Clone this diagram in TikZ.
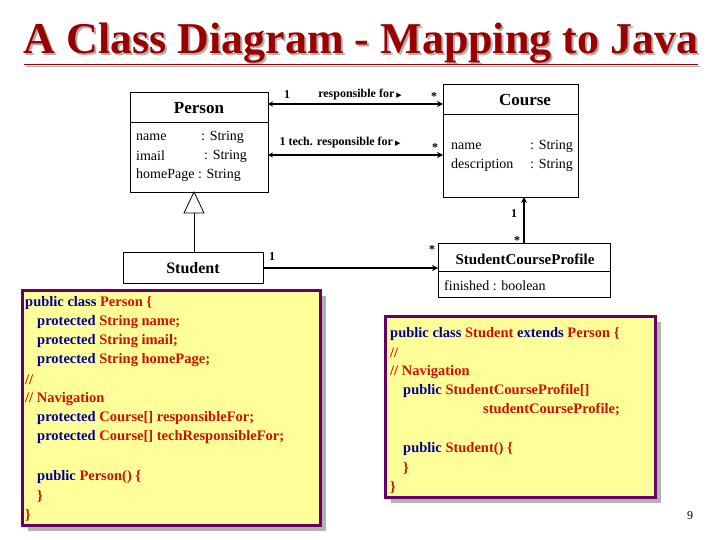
\documentclass[tikz,border=0pt]{standalone}
\usepackage{fontspec}
\setmainfont{Liberation Serif}
\newfontfamily\symf{DejaVu Sans}
\usetikzlibrary{arrows.meta}
\definecolor{kw}{HTML}{000099}
\definecolor{tp}{HTML}{CC1100}
\definecolor{ttl}{HTML}{990000}
\definecolor{codebg}{HTML}{FFFF99}
\definecolor{codebd}{HTML}{660066}
\begin{document}
\begin{tikzpicture}[x=1pt,y=-1pt,
  cls/.style={draw,line width=0.8pt},
  lbl/.style={inner sep=0pt,font=\fontsize{12}{12}\selectfont\bfseries},
  attr/.style={inner sep=0pt,anchor=west,font=\fontsize{14}{14}\selectfont},
  code/.style={inner sep=0pt,anchor=west,font=\fontsize{14.5}{14.5}\selectfont\bfseries},
  assoc/.style={line width=1.2pt},
  codebox/.style={fill=codebg,draw=codebd,line width=3pt}]
\useasboundingbox (0,0) rectangle (720,540);
\fill[white] (0,0) rectangle (720,540);
% title
\node[text=gray!60,font=\fontsize{44}{44}\selectfont\bfseries] at (363,46) {\underline{A Class Diagram - Mapping to Java}};
\node[text=ttl,font=\fontsize{44}{44}\selectfont\bfseries] (title) at (361,44) {\underline{A Class Diagram - Mapping to Java}};
% Person
\draw[cls] (130,92) rectangle (268,192); \draw[cls] (130,122) -- (268,122);
\coordinate (pR1) at (268,104); \coordinate (pR2) at (268,155);
\node[font=\fontsize{17}{17}\selectfont\bfseries] (person) at (199,108) {Person};
\node[attr] (pa1) at (136,137) {name}; \node[attr] at (201,137) {: String};
\node[attr] (pa2) at (136,156) {imail}; \node[attr] at (204,156) {: String};
\node[attr] (pa3) at (136,175) {homePage : String};
% Course
\draw[cls] (443,84) rectangle (578,197); \draw[cls] (443,114) -- (578,114);
\coordinate (cL1) at (443,104); \coordinate (cL2) at (443,155); \coordinate (cB) at (524,197);
\node[font=\fontsize{17}{17}\selectfont\bfseries] (course) at (525,100) {Course};
\node[attr] at (451,146) {name}; \node[attr] at (530,146) {: String};
\node[attr] at (451,165) {description}; \node[attr] at (530,165) {: String};
% Student
\draw[cls] (123,252) rectangle (263,283);
\coordinate (sR) at (263,268); \coordinate (sT) at (194,252);
\node[font=\fontsize{16}{16}\selectfont\bfseries] (student) at (193,268) {Student};
% SCP
\draw[cls] (438,243) rectangle (610,297); \draw[cls] (438,271) -- (610,271);
\coordinate (scL) at (438,268); \coordinate (scT) at (524,243);
\node[font=\fontsize{15}{15}\selectfont\bfseries] (scp) at (525,259) {StudentCourseProfile};
\node[attr] at (444,286) {finished : boolean};
% associations
\draw[assoc,{Stealth[length=5pt,width=5pt]}-{Stealth[length=6pt,width=6pt]}] (pR1) -- (cL1);
\draw[assoc,{Stealth[length=5pt,width=5pt]}-{Stealth[length=6pt,width=6pt]}] (pR2) -- (cL2);
\draw[assoc,-{Stealth[length=6pt,width=6pt]}] (sR) -- (scL);
\draw[assoc,-{Stealth[length=6pt,width=6pt]}] (scT) -- (cB);
% generalization
\coordinate (gTip) at (194,192); \coordinate (gBase) at (194,213);
\draw[line width=0.8pt] (gTip) -- (204,213) -- (184,213) -- cycle;
\draw[line width=0.8pt] (gBase) -- (sT);
% labels
\node[lbl] at (287,95) {1};
\node[lbl] at (360,95) {responsible for\,{\symf\scriptsize ▶}};
\node[lbl] at (434,97) {*};
\node[lbl] at (340,143) {1 tech. responsible for\,{\symf\scriptsize ▶}};
\node[lbl] at (435,148) {*};
\node[lbl] at (514,214) {1};
\node[lbl] at (517,241) {*};
\node[lbl] at (272,257) {1};
\node[lbl] at (432,250) {*};
% code boxes
\fill[gray!60] (28,296) rectangle (326,531);
\draw[codebox] (22,290) rectangle (320,525);
\fill[gray!60] (391,322) rectangle (661,503);
\draw[codebox] (385,316) rectangle (655,497);
\node[code] at (25,303) {\color{kw}public class \color{tp}Person \{};
\node[code] at (37,322) {\color{kw}protected \color{tp}String name;};
\node[code] at (37,341) {\color{kw}protected \color{tp}String imail;};
\node[code] at (37,360) {\color{kw}protected \color{tp}String homePage;};
\node[code] at (25,380) {\color{tp}//};
\node[code] at (25,399) {\color{tp}// Navigation};
\node[code] at (37,418) {\color{kw}protected \color{tp}Course[] responsibleFor;};
\node[code] at (37,437) {\color{kw}protected \color{tp}Course[] techResponsibleFor;};
\node[code] at (37,477) {\color{kw}public \color{tp}Person() \{};
\node[code] at (37,496) {\color{tp}\}};
\node[code] at (25,515) {\color{tp}\}};
\node[code] at (390,334) {\color{kw}public class \color{tp}Student \color{kw}extends \color{tp}Person \{};
\node[code] at (390,353) {\color{tp}//};
\node[code] at (390,372) {\color{tp}// Navigation};
\node[code] at (403,391) {\color{kw}public \color{tp}StudentCourseProfile[]};
\node[code] at (483,410) {\color{tp}studentCourseProfile;};
\node[code] at (403,449) {\color{kw}public \color{tp}Student() \{};
\node[code] at (403,468) {\color{tp}\}};
\node[code] at (390,487) {\color{tp}\}};
\node[font=\fontsize{12}{12}\selectfont] (pg) at (690,516) {9};
\end{tikzpicture}
\end{document}
